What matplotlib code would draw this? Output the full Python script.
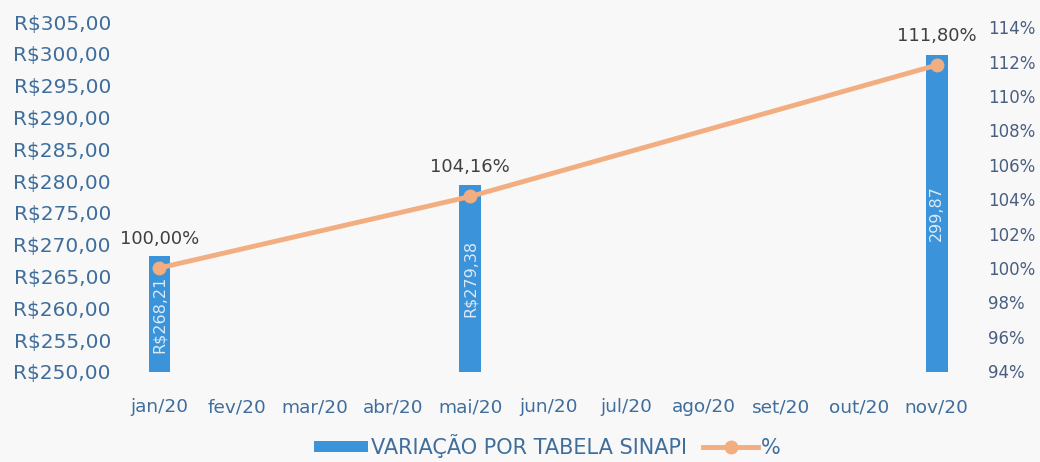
import matplotlib.pyplot as plt
import matplotlib.ticker as ticker
import numpy as np

plt.rcParams['font.family'] = ['DejaVu Sans']

meses = ['jan/20', 'fev/20', 'mar/20', 'abr/20', 'mai/20', 'jun/20',
         'jul/20', 'ago/20', 'set/20', 'out/20', 'nov/20']
idx = [0, 4, 10]  # meses com medição
sinapi = [268.21, 279.38, 299.87]
rotulos_barra = ['R$268,21', 'R$279,38', '299,87']
percentual = [100.00, 104.16, 111.80]
rotulos_pct = ['100,00%', '104,16%', '111,80%']

cor_barra = '#3b93d9'
cor_linha = '#f2ad80'
fundo = '#f8f8f8'

fig = plt.figure(figsize=(10.4, 4.62), dpi=100, facecolor=fundo)
ax = fig.add_axes([0.116, 0.195, 0.822, 0.757])
ax.set_facecolor(fundo)
ax2 = ax.twinx()

x = np.arange(len(meses))
xb = np.array(idx)

# barras
barras = ax.bar(xb, np.array(sinapi) - 250, bottom=250, width=0.28,
                color=cor_barra, label='VARIAÇÃO POR TABELA SINAPI', zorder=2)
for b, v, t in zip(barras, sinapi, rotulos_barra):
    txt = ax.text(b.get_x() + b.get_width() / 2, (250 + v) / 2, t,
                  rotation=90, ha='center', va='center', fontsize=11.5,
                  color='#dbe9f7', zorder=3)
    txt.set_clip_path(b)

ax.set_xlim(-0.5, len(meses) - 0.5)
ax.set_ylim(250, 305)
ax.yaxis.set_major_locator(ticker.MultipleLocator(5))
ax.yaxis.set_major_formatter(ticker.FuncFormatter(
    lambda v, p: 'R$' + f'{v:.2f}'.replace('.', ',')))
ax.set_xticks(x)
ax.set_xticklabels(meses)

# linha %
ax2.plot(xb, percentual, color=cor_linha, lw=3.5, marker='o', ms=9,
         label='%', zorder=4)
for xi, p, t in zip(xb, percentual, rotulos_pct):
    ax2.annotate(t, (xi, p), xytext=(0, 21), textcoords='offset points',
                 ha='center', va='center', fontsize=13, color='#404040')
ax2.set_ylim(93.95, 114.3)
ax2.set_yticks(np.arange(94, 115, 2))
ax2.yaxis.set_major_formatter(ticker.FuncFormatter(lambda v, p: f'{v:.0f}%'))

for a in (ax, ax2):
    for s in a.spines.values():
        s.set_visible(False)
ax.tick_params(axis='y', length=0, labelsize=14.5, labelcolor='#3f6e9c', pad=7)
ax.tick_params(axis='x', length=0, labelsize=13.3, labelcolor='#3f6e9c', pad=19)
ax2.tick_params(axis='y', length=0, labelsize=12, labelcolor='#4a5f80', pad=9)
ax.set_zorder(ax2.get_zorder() - 1)
ax.patch.set_visible(True)
ax2.patch.set_visible(False)

h1, l1 = ax.get_legend_handles_labels()
h2, l2 = ax2.get_legend_handles_labels()
leg = fig.legend(h1 + h2, l1 + l2, loc='center', bbox_to_anchor=(0.526, 0.035),
                 ncol=2, frameon=False, fontsize=15, columnspacing=0.8,
                 handlelength=2.6, handletextpad=0.15, handleheight=0.45,
                 borderpad=0.1)
for t in leg.get_texts():
    t.set_color('#3f6e9c')

fig.savefig('out.png', dpi=100, facecolor=fundo)
